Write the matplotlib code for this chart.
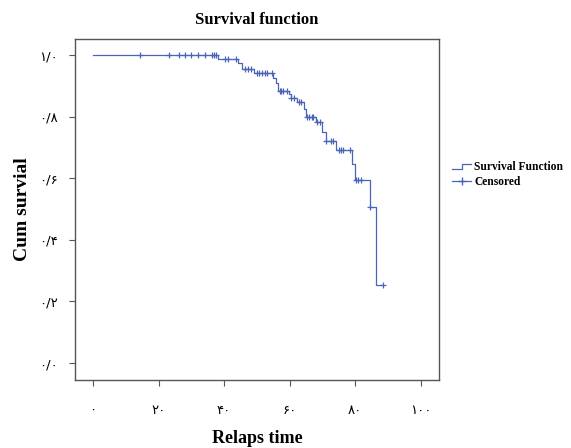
import matplotlib
matplotlib.use("Agg")
import matplotlib.pyplot as plt
from matplotlib.lines import Line2D
from matplotlib.legend_handler import HandlerBase

# step times and survival level after each step
step_times = [0, 38.3, 44.4, 45.6, 49.0, 54.8, 56.0, 56.6, 59.7, 60.3, 62.2,
              64.4, 64.9, 68.0, 70.0, 71.0, 74.1, 79.2, 80.0, 84.6, 86.3]
step_surv = [1.0, 0.987, 0.974, 0.954, 0.941, 0.925, 0.909, 0.884, 0.873, 0.859, 0.846,
             0.824, 0.798, 0.781, 0.749, 0.721, 0.691, 0.645, 0.593, 0.508, 0.252]
last_time = 88.4

# censored observations
cens_t = [14.2, 23.3, 26.3, 28.2, 30.0, 32.1, 34.3, 36.2, 36.8, 37.4,
          40.4, 41.3, 43.5, 46.5, 47.4, 48.1, 50.1, 50.8, 51.7, 52.4, 53.2, 54.7,
          57.0, 57.5, 58.1, 59.3, 60.5, 61.3, 62.9, 63.4, 65.2, 65.9, 66.7, 67.3,
          68.5, 69.3, 71.0, 72.6, 73.4, 75.1, 75.8, 76.4, 78.5, 80.2, 81.0, 81.7,
          84.6, 88.4]
cens_s = [1.0] * 10 + [0.987] * 3 + [0.954] * 3 + [0.941] * 6 + \
         [0.884] * 4 + [0.859] * 2 + [0.846] * 2 + [0.798] * 4 + [0.781] * 2 + \
         [0.721] * 3 + [0.691] * 4 + [0.593] * 3 + [0.508] + [0.252]

xticks = [0, 20, 40, 60, 80, 100]
xtick_labels = ["۰", "۲۰", "۴۰", "۶۰", "۸۰", "۱۰۰"]
yticks = [0.0, 0.2, 0.4, 0.6, 0.8, 1.0]
ytick_labels = ["۰/۰", "۰/۲", "۰/۴", "۰/۶", "۰/۸", "۱/۰"]

blue = "#4865b8"
serif = ["Liberation Serif", "DejaVu Serif"]
digits = ["DejaVu Sans"]


class StepHandler(HandlerBase):
    def create_artists(self, legend, orig, xd, yd, w, h, fontsize, trans):
        xs = [xd, xd + w * 0.5, xd + w * 0.5, xd + w]
        ys = [yd + h * 0.2, yd + h * 0.2, yd + h * 0.8, yd + h * 0.8]
        ln = Line2D(xs, ys, color=blue, lw=0.9, transform=trans)
        return [ln]


fig = plt.figure(figsize=(5.71, 4.48), dpi=100)
ax = fig.add_axes([0.1313, 0.1518, 0.6375, 0.7611])

xs = list(step_times) + [last_time]
ys = list(step_surv) + [step_surv[-1]]
ax.step(xs, ys, where="post", color=blue, lw=0.9)
ax.plot(cens_t, cens_s, "+", color=blue, ms=5, mew=0.9)

ax.set_xlim(-5.5, 105.6)
ax.set_ylim(-0.055, 1.052)
ax.set_xticks(xticks)
ax.set_xticklabels(xtick_labels, family=digits, fontsize=9.5)
ax.set_yticks(yticks)
ax.set_yticklabels(ytick_labels, family=digits, fontsize=9.5)
ax.tick_params(axis="x", direction="out", length=4, color="#555555", pad=13)
ax.tick_params(axis="y", direction="out", length=4, color="#555555", pad=8)
for s in ax.spines.values():
    s.set_color("#555555")
    s.set_linewidth(1.0)

ax.set_title("Survival function", family=serif, fontweight="bold", fontsize=12, pad=11)
ax.set_xlabel("Relaps time", family=serif, fontweight="bold", fontsize=13, labelpad=10)
ax.set_ylabel("Cum survial", family=serif, fontweight="bold", fontsize=14, labelpad=6)

h1 = Line2D([], [], color=blue, lw=0.9)
h2 = Line2D([], [], color=blue, lw=0.9, marker="+", ms=6)
fig.legend([h1, h2], ["Survival Function", "Censored"],
           handler_map={h1: StepHandler()},
           loc="upper left", bbox_to_anchor=(0.778, 0.658), frameon=False,
           prop={"family": serif, "weight": "bold", "size": 8.3},
           handlelength=1.6, handletextpad=0.3, labelspacing=0.2, borderpad=0.2)

fig.savefig("out.png", dpi=100)
